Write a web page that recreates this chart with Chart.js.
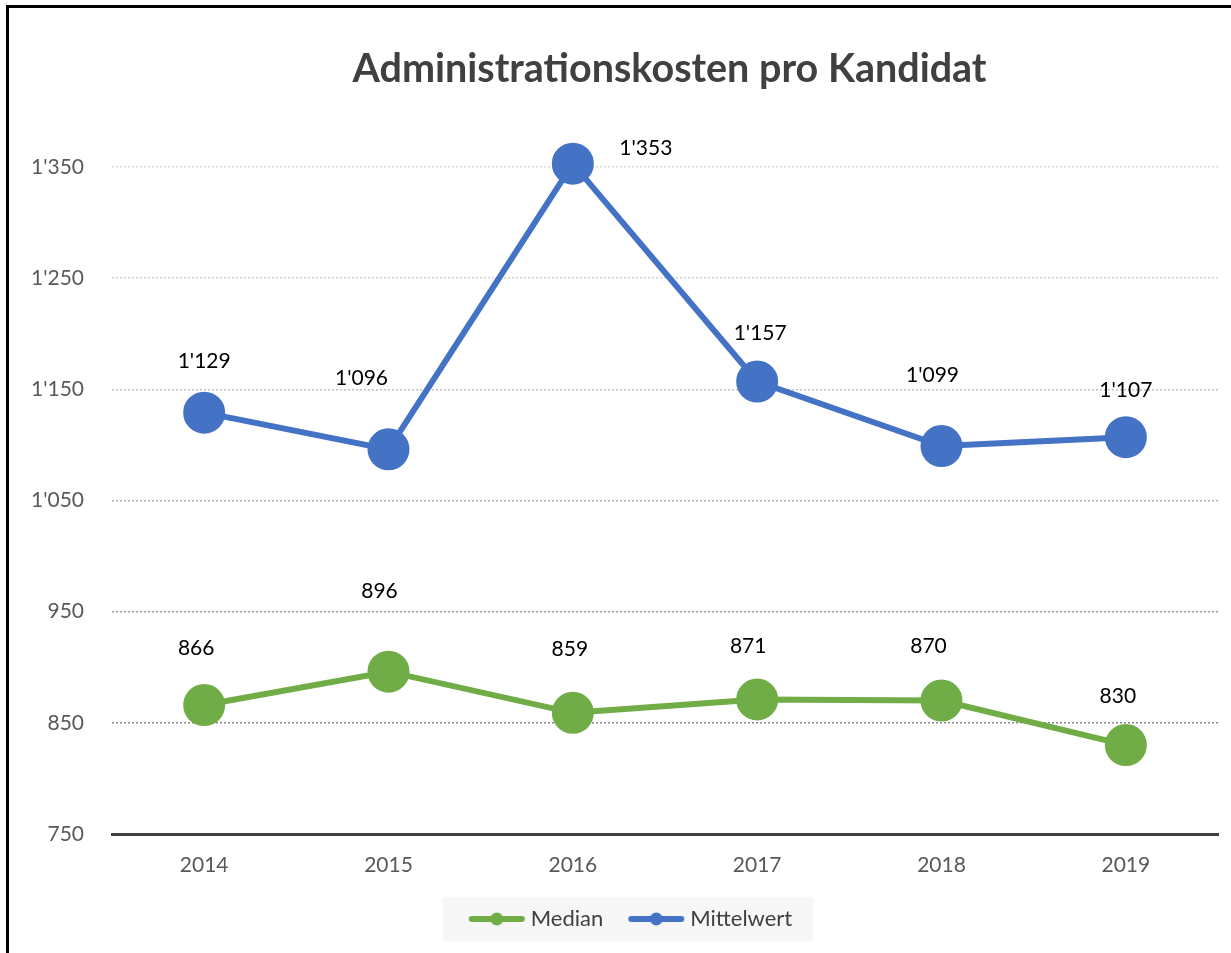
<!DOCTYPE html>
<html>
<head>
<meta charset="utf-8">
<script src="https://cdn.jsdelivr.net/npm/chart.js@4"></script>
<style>
  html, body { margin: 0; padding: 0; background: #ffffff; }
  #wrap { position: relative; width: 1231px; height: 953px; }
  #frame { position: absolute; left: 6px; top: 5px; right: 0; bottom: 0;
           border-left: 3px solid #000; border-top: 3px solid #000; pointer-events: none; }
</style>
</head>
<body>
<div id="wrap">
  <canvas id="c" width="1231" height="953"></canvas>
  <div id="frame"></div>
</div>
<script>
const categories = ['2014', '2015', '2016', '2017', '2018', '2019'];
const medianValues = [866, 896, 859, 871, 870, 830];
const mittelwertValues = [1129, 1096, 1353, 1157, 1099, 1107];
const seriesNames = ['Median', 'Mittelwert'];
const titleText = 'Administrationskosten pro Kandidat';
const yMin = 750, yMax = 1350, yStep = 100;

const GREEN = '#70AD47', BLUE = '#4472C4';
const FONT = 'Lato, "Open Sans", sans-serif';

function fmt(v) {
  const s = String(Math.round(v));
  return s.replace(/\B(?=(\d{3})+(?!\d))/g, "'");
}

function legendMarker(color) {
  const c = document.createElement('canvas');
  c.width = 58; c.height = 14;
  const g = c.getContext('2d');
  g.strokeStyle = color; g.lineWidth = 6; g.lineCap = 'round';
  g.beginPath(); g.moveTo(4, 7); g.lineTo(54, 7); g.stroke();
  g.fillStyle = color;
  g.beginPath(); g.arc(29, 7, 6.5, 0, Math.PI * 2); g.fill();
  return c;
}
const markers = [legendMarker(GREEN), legendMarker(BLUE)];

// label offsets (pixels) relative to each point, per dataset
const labelOffsets = [
  [[-8, -57], [-9, -80], [-3, -64], [-9, -53], [-13, -54], [-8, -49]],
  [[0, -51], [-27, -71], [73, -15], [3, -48], [-9, -71], [0, -47]]
];

const dataLabelPlugin = {
  id: 'dataLabels',
  afterDatasetsDraw(chart) {
    const ctx = chart.ctx;
    ctx.save();
    ctx.font = '21px ' + FONT;
    ctx.fillStyle = '#000000';
    ctx.textAlign = 'center';
    ctx.textBaseline = 'middle';
    chart.data.datasets.forEach((ds, di) => {
      const meta = chart.getDatasetMeta(di);
      meta.data.forEach((pt, i) => {
        const off = labelOffsets[di][i];
        ctx.fillText(fmt(ds.data[i]), pt.x + off[0], pt.y + off[1]);
      });
    });
    ctx.restore();
  }
};

// nudge legend and title horizontally to match the original placement
const shiftPlugin = {
  id: 'shiftBoxes',
  afterLayout(chart) {
    if (chart.legend) { chart.legend.left += 24; chart.legend.right += 24; }
    if (chart.titleBlock) { chart.titleBlock.left += 4.5; chart.titleBlock.right += 4.5; }
  }
};

const legendBgPlugin = {
  id: 'legendBg',
  beforeDraw(chart) {
    const lg = chart.legend;
    if (!lg || !lg.legendHitBoxes || !lg.legendHitBoxes.length) return;
    const boxes = lg.legendHitBoxes;
    const x0 = boxes[0].left - 31;
    const last = boxes[boxes.length - 1];
    const x1 = last.left + last.width + 21;
    const cy = boxes[0].top + boxes[0].height / 2;
    const ctx = chart.ctx;
    ctx.save();
    ctx.fillStyle = '#f7f7f7';
    ctx.fillRect(x0, cy - 22, x1 - x0, 44);
    ctx.restore();
  }
};

const gridColors = { 1350: '#d9d9d9', 1250: '#d2d2d2', 1150: '#c0c0c0', 1050: '#b0b0b0', 950: '#9a9a9a', 850: '#8a8a8a' };

new Chart(document.getElementById('c'), {
  type: 'line',
  data: {
    labels: categories,
    datasets: [
      { label: seriesNames[0], data: medianValues, borderColor: GREEN, backgroundColor: GREEN,
        pointBackgroundColor: GREEN, pointBorderColor: GREEN, borderWidth: 6, pointRadius: 18,
        pointHoverRadius: 18, tension: 0, pointStyle: 'circle', clip: false },
      { label: seriesNames[1], data: mittelwertValues, borderColor: BLUE, backgroundColor: BLUE,
        pointBackgroundColor: BLUE, pointBorderColor: BLUE, borderWidth: 6, pointRadius: 18,
        pointHoverRadius: 18, tension: 0, pointStyle: 'circle', clip: false }
    ]
  },
  options: {
    responsive: false,
    animation: false,
    devicePixelRatio: 1,
    layout: { autoPadding: false, padding: { left: 0, right: 13, top: 0, bottom: 13 } },
    plugins: {
      title: {
        display: true, text: titleText, color: '#404040', fullSize: false,
        font: { family: FONT, size: 39.5, weight: 'bold', lineHeight: 1.2 },
        padding: { top: 46, bottom: 73.6 }
      },
      legend: {
        display: true, position: 'bottom',
        labels: {
          color: '#404040', font: { family: FONT, size: 22 },
          usePointStyle: true, pointStyleWidth: 46, padding: 30,
          generateLabels(chart) {
            return chart.data.datasets.map((ds, i) => ({
              text: ds.label, fillStyle: ds.borderColor, strokeStyle: ds.borderColor,
              pointStyle: markers[i], lineWidth: 0, datasetIndex: i, hidden: false,
              fontColor: '#404040'
            }));
          }
        }
      },
      tooltip: { enabled: false }
    },
    scales: {
      x: {
        offset: true,
        grid: { display: false, drawTicks: false },
        border: { display: true, color: '#404040', width: 3 },
        ticks: { color: '#595959', font: { family: FONT, size: 21 }, padding: 19 },
        afterFit(scale) { scale.height = 44; }
      },
      y: {
        min: yMin, max: yMax,
        grid: {
          drawTicks: false, lineWidth: 1.5,
          color: (ctx) => ctx.tick && gridColors[ctx.tick.value] ? gridColors[ctx.tick.value] : 'rgba(0,0,0,0)'
        },
        border: { display: false, dash: [2, 2] },
        ticks: { stepSize: yStep, color: '#595959', font: { family: FONT, size: 21 }, padding: 28,
                 callback: (v) => fmt(v) },
        afterFit(scale) { scale.width = 112; }
      }
    }
  },
  plugins: [shiftPlugin, dataLabelPlugin, legendBgPlugin]
});
</script>
</body>
</html>
